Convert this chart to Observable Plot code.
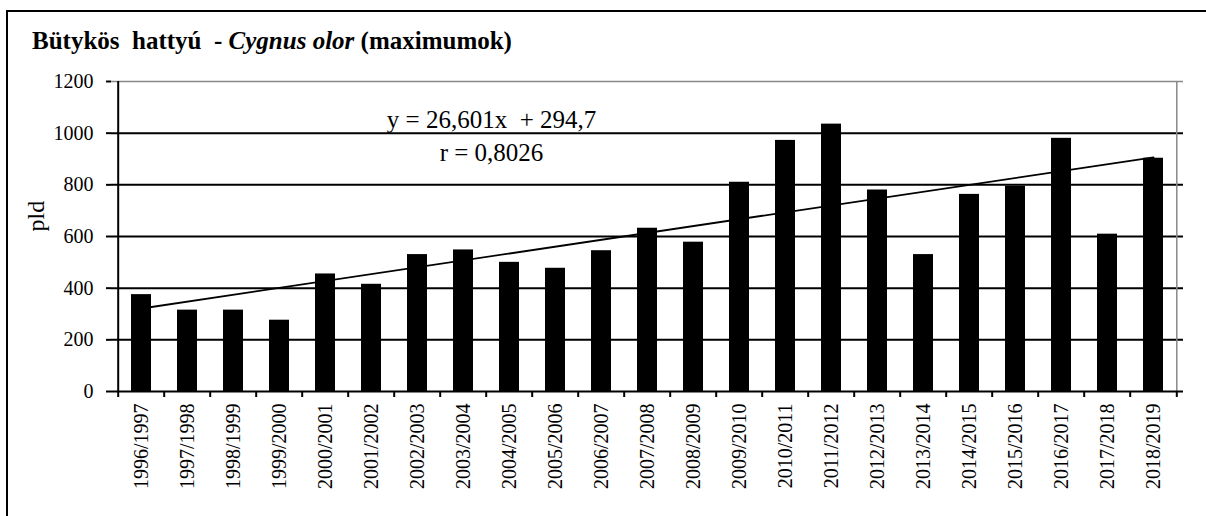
<!DOCTYPE html>
<html><head><meta charset="utf-8">
<script src="https://cdn.jsdelivr.net/npm/d3@7"></script>
<script src="https://cdn.jsdelivr.net/npm/@observablehq/plot@0.6"></script>
<style>
html,body{margin:0;padding:0;background:#fff;}
#wrap{position:relative;width:1206px;height:516px;overflow:hidden;font-family:"Liberation Serif","Times New Roman",serif;color:#000;}
#frame{position:absolute;left:6px;top:10px;right:-10px;bottom:-10px;border-left:2px solid #000;border-top:2px solid #000;}
#title{position:absolute;left:32px;top:28px;font-size:25px;font-weight:bold;line-height:25px;white-space:pre;}
#chart{position:absolute;left:0;top:0;}
</style></head><body>
<div id="wrap"><div id="frame"></div><div id="title"></div><div id="chart"></div></div>
<script>
const seasons = ["1996/1997","1997/1998","1998/1999","1999/2000","2000/2001","2001/2002","2002/2003","2003/2004","2004/2005","2005/2006","2006/2007","2007/2008","2008/2009","2009/2010","2010/2011","2011/2012","2012/2013","2013/2014","2014/2015","2015/2016","2016/2017","2017/2018","2018/2019"];
const counts = [375,315,315,276,455,415,530,548,500,477,545,632,578,810,972,1035,780,530,763,795,980,609,903];
const yTicks = [0,200,400,600,800,1000,1200];
const trendSlope = 26.601;
const trendIntercept = 294.7;
const titleMain = "Bütykös\u00a0 hattyú\u00a0 - ";
const titleItalic = "Cygnus olor";
const titleEnd = " (maximumok)";
const trendLabel = "y = 26,601x\u00a0 + 294,7";
const rLabel = "r = 0,8026";
const yLabel = "pld";

document.getElementById("title").innerHTML = titleMain + "<i>" + titleItalic + "</i>" + titleEnd;

const W = 1206, H = 516, mL = 111, mR = 23, mT = 81, mB = 125;
const n = seasons.length;
const step = (W - mL - mR) / n;
const data = seasons.map((s, i) => ({season: s, count: counts[i]}));
const trend = [
  {season: seasons[0], v: trendIntercept + trendSlope * 1},
  {season: seasons[n - 1], v: trendIntercept + trendSlope * n}
];

const chart = Plot.plot({
  width: W, height: H,
  marginLeft: mL, marginRight: mR, marginTop: mT, marginBottom: mB,
  style: {fontFamily: "'Liberation Serif','Times New Roman',serif", fontSize: "20px", color: "#000", background: "transparent", overflow: "visible"},
  x: {domain: seasons, paddingInner: 0.57, paddingOuter: 0.285, label: null},
  y: {domain: [0, 1200], label: null},
  marks: [
    Plot.gridY(yTicks.slice(1, -1), {stroke: "#000", strokeOpacity: 1, strokeWidth: 2}),
    Plot.ruleY([1200], {stroke: "#888", strokeWidth: 1.5}),
    Plot.ruleX([seasons[n - 1]], {x: d => d, dx: step / 2, stroke: "#888", strokeWidth: 1.5}),
    Plot.line(trend, {x: "season", y: "v", stroke: "#000", strokeWidth: 1.8}),
    Plot.barY(data, {x: "season", y: "count", fill: "#000"}),
    Plot.ruleX([seasons[0]], {x: d => d, dx: -step / 2, stroke: "#000", strokeWidth: 2}),
    Plot.ruleY([0], {stroke: "#000", strokeWidth: 2}),
    Plot.ruleX(seasons, {x: d => d, dx: -step / 2, y1: 0, y2: 0, insetBottom: -6, stroke: "#000", strokeWidth: 2}),
    Plot.ruleX([seasons[n - 1]], {x: d => d, dx: step / 2, y1: 0, y2: 0, insetBottom: -6, stroke: "#000", strokeWidth: 2}),
    Plot.axisY({ticks: yTicks, tickSize: 5, tickPadding: 13, tickFormat: d3.format("d"), fontSize: 20, strokeWidth: 2}),
    Plot.axisX({tickSize: 0, tickPadding: 12, tickRotate: -90, fontSize: 20}),
    Plot.text([trendLabel + "\n" + rLabel], {x: () => seasons[7], y: () => 893, dx: 28, lineAnchor: "bottom", lineHeight: 1.32, fontSize: 25, textAnchor: "middle"}),
    Plot.text([yLabel], {frameAnchor: "left", dx: -75, dy: -5, rotate: -90, fontSize: 24})
  ]
});
document.getElementById("chart").appendChild(chart);
</script>
</body></html>
